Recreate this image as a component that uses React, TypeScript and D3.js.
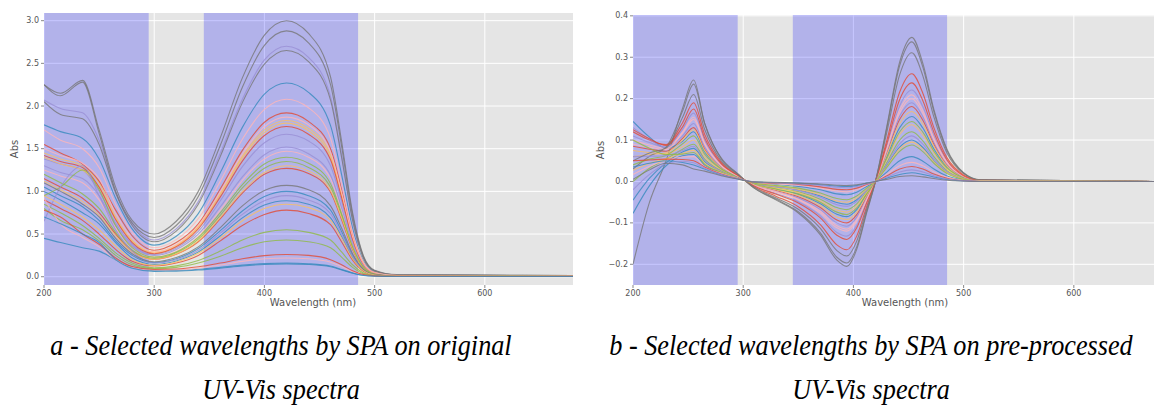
import React from "react";
import * as d3 from "d3";

// wavelength grid (nm) of the raw spectra, panel a
const WAVE_A = [200, 215, 235, 250, 265, 280, 300, 320, 340, 360, 380, 400, 420, 440, 460, 470, 480, 490, 500, 520, 680];

// absorbance of each sample
const SPECTRA_A = [
  [1.15, 1.05, 0.92, 0.75, 0.5, 0.3, 0.205, 0.264, 0.41, 0.68, 0.98, 1.2, 1.27, 1.21, 0.99, 0.67, 0.32, 0.1, 0.032, 0.01, 0.006],
  [1.78, 1.7, 1.62, 1.38, 0.92, 0.56, 0.37, 0.475, 0.74, 1.22, 1.75, 2.14, 2.27, 2.16, 1.77, 1.2, 0.57, 0.18, 0.057, 0.018, 0.011],
  [2.07, 1.97, 1.92, 1.6, 1.0, 0.62, 0.43, 0.56, 0.88, 1.45, 2.08, 2.54, 2.7, 2.57, 2.11, 1.43, 0.68, 0.22, 0.07, 0.02, 0.013],
  [2.25, 2.15, 2.3, 1.72, 1.05, 0.66, 0.5, 0.65, 1.0, 1.63, 2.33, 2.83, 3.0, 2.85, 2.34, 1.59, 0.75, 0.24, 0.075, 0.024, 0.015],
  [1.45, 1.38, 1.3, 1.1, 0.7, 0.42, 0.28, 0.36, 0.58, 0.96, 1.39, 1.69, 1.8, 1.71, 1.4, 0.95, 0.45, 0.14, 0.045, 0.014, 0.009],
  [0.8, 0.66, 0.55, 0.42, 0.25, 0.14, 0.095, 0.11, 0.16, 0.24, 0.34, 0.41, 0.43, 0.41, 0.34, 0.23, 0.11, 0.034, 0.011, 0.004, 0.003],
  [1.25, 1.18, 1.1, 0.9, 0.57, 0.34, 0.23, 0.295, 0.47, 0.78, 1.13, 1.38, 1.47, 1.4, 1.15, 0.78, 0.37, 0.12, 0.037, 0.012, 0.007],
  [1.55, 1.45, 1.32, 1.12, 0.78, 0.48, 0.31, 0.4, 0.62, 1.03, 1.48, 1.81, 1.92, 1.82, 1.5, 1.02, 0.48, 0.15, 0.048, 0.015, 0.01],
  [1.05, 0.95, 0.82, 0.66, 0.42, 0.25, 0.165, 0.21, 0.33, 0.54, 0.77, 0.94, 1.0, 0.95, 0.78, 0.53, 0.25, 0.08, 0.025, 0.008, 0.005],
  [1.38, 1.32, 1.25, 1.0, 0.63, 0.38, 0.26, 0.335, 0.53, 0.89, 1.29, 1.57, 1.67, 1.59, 1.3, 0.89, 0.42, 0.13, 0.042, 0.013, 0.008],
  [2.25, 2.12, 2.28, 1.68, 1.0, 0.63, 0.46, 0.6, 0.94, 1.54, 2.22, 2.71, 2.88, 2.74, 2.25, 1.53, 0.72, 0.23, 0.07, 0.023, 0.014],
  [1.4, 1.32, 1.25, 1.05, 0.68, 0.42, 0.29, 0.37, 0.59, 0.98, 1.41, 1.72, 1.83, 1.74, 1.43, 0.97, 0.46, 0.15, 0.046, 0.015, 0.009],
  [1.2, 1.1, 0.97, 0.8, 0.52, 0.31, 0.215, 0.28, 0.44, 0.72, 1.04, 1.27, 1.35, 1.28, 1.05, 0.72, 0.34, 0.11, 0.034, 0.011, 0.007],
  [1.72, 1.6, 1.5, 1.28, 0.85, 0.52, 0.34, 0.435, 0.68, 1.12, 1.61, 1.96, 2.08, 1.98, 1.62, 1.1, 0.52, 0.17, 0.052, 0.017, 0.01],
  [1.42, 1.35, 1.28, 1.05, 0.67, 0.4, 0.27, 0.35, 0.56, 0.935, 1.355, 1.655, 1.76, 1.67, 1.37, 0.93, 0.44, 0.14, 0.044, 0.014, 0.009],
  [1.0, 0.9, 0.75, 0.62, 0.4, 0.22, 0.145, 0.185, 0.29, 0.48, 0.69, 0.84, 0.89, 0.85, 0.69, 0.47, 0.22, 0.07, 0.022, 0.007, 0.005],
  [1.3, 1.22, 1.15, 0.95, 0.6, 0.36, 0.25, 0.32, 0.5, 0.82, 1.17, 1.43, 1.52, 1.44, 1.19, 0.81, 0.38, 0.12, 0.038, 0.012, 0.008],
  [2.05, 1.9, 1.85, 1.55, 0.98, 0.6, 0.41, 0.535, 0.85, 1.41, 2.04, 2.49, 2.65, 2.52, 2.07, 1.4, 0.66, 0.21, 0.066, 0.02, 0.013],
  [1.12, 1.02, 0.88, 0.72, 0.48, 0.29, 0.205, 0.265, 0.42, 0.695, 1.0, 1.22, 1.3, 1.24, 1.01, 0.69, 0.33, 0.1, 0.033, 0.01, 0.006],
  [0.95, 1.05, 1.25, 1.02, 0.6, 0.34, 0.23, 0.29, 0.46, 0.75, 1.08, 1.32, 1.4, 1.33, 1.09, 0.74, 0.35, 0.11, 0.035, 0.011, 0.007],
  [1.5, 1.42, 1.33, 1.15, 0.74, 0.45, 0.29, 0.375, 0.6, 0.995, 1.44, 1.76, 1.87, 1.78, 1.46, 0.99, 0.47, 0.15, 0.047, 0.015, 0.009],
  [0.9, 0.8, 0.66, 0.5, 0.32, 0.18, 0.125, 0.16, 0.25, 0.42, 0.6, 0.73, 0.78, 0.74, 0.61, 0.41, 0.195, 0.062, 0.02, 0.006, 0.004],
  [0.45, 0.4, 0.34, 0.3, 0.2, 0.11, 0.072, 0.075, 0.088, 0.11, 0.136, 0.154, 0.16, 0.152, 0.125, 0.085, 0.045, 0.018, 0.008, 0.003, 0.002],
  [0.65, 1.05, 1.3, 0.95, 0.55, 0.3, 0.16, 0.198, 0.31, 0.51, 0.73, 0.89, 0.95, 0.9, 0.74, 0.5, 0.24, 0.076, 0.024, 0.008, 0.005],
  [1.1, 1.0, 0.85, 0.7, 0.45, 0.27, 0.175, 0.224, 0.35, 0.575, 0.83, 1.01, 1.07, 1.02, 0.83, 0.57, 0.27, 0.086, 0.027, 0.009, 0.005],
  [0.95, 0.85, 0.7, 0.55, 0.36, 0.2, 0.135, 0.173, 0.274, 0.454, 0.656, 0.8, 0.85, 0.81, 0.66, 0.45, 0.21, 0.068, 0.021, 0.007, 0.005],
  [0.85, 0.75, 0.6, 0.45, 0.28, 0.16, 0.105, 0.127, 0.19, 0.3, 0.43, 0.52, 0.55, 0.52, 0.43, 0.29, 0.14, 0.044, 0.014, 0.005, 0.003],
  [0.92, 0.62, 0.46, 0.35, 0.2, 0.11, 0.075, 0.079, 0.1, 0.138, 0.18, 0.21, 0.22, 0.21, 0.17, 0.12, 0.06, 0.022, 0.009, 0.004, 0.003],
  [0.78, 0.7, 0.5, 0.38, 0.22, 0.12, 0.085, 0.09, 0.116, 0.16, 0.21, 0.247, 0.26, 0.25, 0.2, 0.14, 0.07, 0.025, 0.01, 0.004, 0.003],
  [0.7, 0.62, 0.5, 0.4, 0.2, 0.1, 0.063, 0.065, 0.078, 0.1, 0.126, 0.144, 0.15, 0.143, 0.117, 0.08, 0.04, 0.016, 0.007, 0.003, 0.002],
];

// wavelength grid (nm) of the pre-processed spectra, panel b
const WAVE_B = [200, 215, 230, 245, 255, 265, 280, 295, 310, 330, 350, 370, 385, 394, 403, 412, 420, 430, 442, 453, 463, 473, 485, 500, 515, 680];

const SPECTRA_B = [
  [0.085, 0.078, 0.073, 0.104, 0.13, 0.078, 0.034, 0.012, -0.008, -0.022, -0.037, -0.063, -0.093, -0.1, -0.08, -0.037, 0, 0.067, 0.15, 0.181, 0.148, 0.09, 0.04, 0.011, 0.002, 0],
  [0.145, 0.107, 0.08, 0.097, 0.12, 0.072, 0.032, 0.011, -0.007, -0.019, -0.031, -0.054, -0.079, -0.085, -0.068, -0.031, 0, 0.058, 0.13, 0.157, 0.129, 0.079, 0.035, 0.009, 0.002, 0],
  [0.11, 0.094, 0.083, 0.126, 0.165, 0.099, 0.041, 0.014, -0.011, -0.029, -0.049, -0.083, -0.123, -0.132, -0.106, -0.049, 0, 0.082, 0.183, 0.221, 0.181, 0.11, 0.049, 0.013, 0.003, 0],
  [-0.2, -0.05, 0.05, 0.177, 0.245, 0.14, 0.057, 0.019, -0.016, -0.045, -0.076, -0.129, -0.19, -0.205, -0.164, -0.076, 0, 0.129, 0.289, 0.348, 0.285, 0.174, 0.077, 0.021, 0.004, 0],
  [0.06, 0.065, 0.069, 0.1, 0.125, 0.075, 0.033, 0.012, -0.007, -0.02, -0.034, -0.058, -0.086, -0.092, -0.074, -0.034, 0, 0.063, 0.14, 0.169, 0.139, 0.085, 0.037, 0.01, 0.002, 0],
  [0.0, 0.032, 0.054, 0.078, 0.09, 0.054, 0.026, 0.009, -0.005, -0.015, -0.025, -0.043, -0.063, -0.068, -0.054, -0.025, 0, 0.044, 0.1, 0.12, 0.098, 0.06, 0.026, 0.007, 0.001, 0],
  [0.1, 0.088, 0.08, 0.119, 0.155, 0.093, 0.039, 0.013, -0.01, -0.026, -0.044, -0.076, -0.112, -0.12, -0.096, -0.044, 0, 0.077, 0.173, 0.209, 0.171, 0.105, 0.046, 0.013, 0.003, 0],
  [0.12, 0.1, 0.089, 0.142, 0.19, 0.114, 0.046, 0.015, -0.013, -0.036, -0.061, -0.104, -0.153, -0.165, -0.132, -0.061, 0, 0.096, 0.216, 0.26, 0.213, 0.13, 0.057, 0.016, 0.003, 0],
  [-0.077, -0.01, 0.038, 0.062, 0.065, 0.039, 0.021, 0.008, -0.003, -0.007, -0.012, -0.02, -0.03, -0.032, -0.026, -0.012, 0, 0.022, 0.05, 0.06, 0.049, 0.03, 0.013, 0.004, 0.001, 0],
  [0.13, 0.102, 0.082, 0.11, 0.14, 0.084, 0.036, 0.012, -0.009, -0.024, -0.04, -0.068, -0.1, -0.108, -0.086, -0.04, 0, 0.07, 0.158, 0.19, 0.156, 0.095, 0.042, 0.011, 0.002, 0],
  [0.03, 0.061, 0.083, 0.17, 0.235, 0.141, 0.055, 0.018, -0.016, -0.043, -0.073, -0.124, -0.183, -0.197, -0.158, -0.073, 0, 0.125, 0.28, 0.337, 0.276, 0.169, 0.074, 0.02, 0.004, 0],
  [0.075, 0.07, 0.067, 0.084, 0.1, 0.06, 0.028, 0.01, -0.006, -0.016, -0.027, -0.047, -0.069, -0.074, -0.059, -0.027, 0, 0.051, 0.114, 0.137, 0.112, 0.069, 0.03, 0.008, 0.002, 0],
  [0.04, 0.054, 0.063, 0.091, 0.11, 0.066, 0.03, 0.011, -0.006, -0.018, -0.03, -0.05, -0.074, -0.08, -0.064, -0.03, 0, 0.054, 0.12, 0.145, 0.119, 0.073, 0.032, 0.009, 0.002, 0],
  [0.09, 0.083, 0.077, 0.117, 0.15, 0.09, 0.038, 0.013, -0.009, -0.025, -0.043, -0.072, -0.107, -0.115, -0.092, -0.043, 0, 0.074, 0.166, 0.2, 0.164, 0.1, 0.044, 0.012, 0.002, 0],
  [0.125, 0.103, 0.087, 0.132, 0.175, 0.105, 0.043, 0.015, -0.011, -0.031, -0.052, -0.088, -0.13, -0.14, -0.112, -0.052, 0, 0.088, 0.198, 0.238, 0.195, 0.119, 0.052, 0.014, 0.003, 0],
  [-0.045, 0.008, 0.045, 0.071, 0.08, 0.048, 0.024, 0.009, -0.004, -0.012, -0.02, -0.035, -0.051, -0.055, -0.044, -0.02, 0, 0.037, 0.083, 0.1, 0.082, 0.05, 0.022, 0.006, 0.001, 0],
  [0.06, 0.061, 0.062, 0.075, 0.085, 0.051, 0.025, 0.009, -0.005, -0.013, -0.022, -0.038, -0.056, -0.06, -0.048, -0.022, 0, 0.041, 0.091, 0.11, 0.09, 0.055, 0.024, 0.007, 0.001, 0],
  [0.05, 0.069, 0.081, 0.155, 0.21, 0.126, 0.05, 0.017, -0.014, -0.04, -0.067, -0.113, -0.167, -0.18, -0.144, -0.067, 0, 0.115, 0.258, 0.311, 0.255, 0.156, 0.068, 0.019, 0.004, 0],
  [0.027, 0.044, 0.055, 0.068, 0.075, 0.045, 0.023, 0.008, -0.004, -0.011, -0.019, -0.032, -0.047, -0.05, -0.04, -0.019, 0, 0.035, 0.079, 0.095, 0.078, 0.048, 0.021, 0.006, 0.001, 0],
  [0.1, 0.08, 0.065, 0.066, 0.07, 0.042, 0.022, 0.008, -0.004, -0.01, -0.016, -0.028, -0.041, -0.044, -0.035, -0.016, 0, 0.033, 0.073, 0.088, 0.072, 0.044, 0.019, 0.005, 0.001, 0],
  [0.017, 0.037, 0.051, 0.059, 0.06, 0.036, 0.02, 0.008, -0.002, -0.006, -0.009, -0.016, -0.023, -0.025, -0.02, -0.009, 0, 0.017, 0.038, 0.046, 0.038, 0.023, 0.01, 0.003, 0.001, 0],
  [0.05, 0.052, 0.054, 0.053, 0.05, 0.035, 0.018, 0.007, -0.002, -0.004, -0.007, -0.013, -0.019, -0.02, -0.016, -0.007, 0, 0.013, 0.03, 0.036, 0.03, 0.018, 0.008, 0.002, 0, 0],
  [0.035, 0.044, 0.05, 0.046, 0.04, 0.03, 0.016, 0.006, -0.001, -0.003, -0.004, -0.008, -0.011, -0.012, -0.01, -0.004, 0, 0.008, 0.017, 0.021, 0.017, 0.011, 0.005, 0.001, 0, 0],
  [-0.02, 0.017, 0.043, 0.049, 0.045, 0.032, 0.017, 0.007, -0.001, -0.003, -0.006, -0.009, -0.014, -0.015, -0.012, -0.006, 0, 0.01, 0.023, 0.028, 0.023, 0.014, 0.006, 0.002, 0, 0],
  [0.005, 0.028, 0.044, 0.04, 0.03, 0.025, 0.014, 0.006, -0.001, -0.002, -0.004, -0.006, -0.009, -0.01, -0.008, -0.004, 0, 0.005, 0.012, 0.014, 0.011, 0.007, 0.003, 0.001, 0, 0],
];

// wavelength intervals selected by SPA
const SPA_BANDS = [
  [200, 295],
  [345, 485],
];

const X_TICKS = [200, 300, 400, 500, 600];
const Y_TICKS_A = [0, 0.5, 1, 1.5, 2, 2.5, 3];
const Y_TICKS_B = [-0.2, -0.1, 0, 0.1, 0.2, 0.3, 0.4];

const CAPTION_A = ["a - Selected wavelengths by SPA on original", "UV-Vis spectra"];
const CAPTION_B = ["b - Selected wavelengths by SPA on pre-processed", "UV-Vis spectra"];

// matplotlib "ggplot" style cycle
const COLORS = ["#E24A33", "#348ABD", "#988ED5", "#777777", "#FBC15E", "#8EBA42", "#FFB5B8"];

const tickFont = "'DejaVu Sans', sans-serif";
const captionFont = "'Liberation Serif', 'Times New Roman', serif";

type PanelProps = {
  id: string;
  left: number;
  top: number;
  bottom: number;
  yDomain: [number, number];
  yTicks: number[];
  waves: number[];
  spectra: number[][];
  absX: number;
  xLabelX: number;
};

const Panel = ({ id, left, top, bottom, yDomain, yTicks, waves, spectra, absX, xLabelX }: PanelProps) => {
  const x = d3.scaleLinear().domain([200, 680]).range([left, left + 529]);
  const y = d3.scaleLinear().domain(yDomain).range([bottom, top]);
  const fmt = d3.format(".1f");
  const line = d3
    .line<number>()
    .x((_, i) => x(waves[i]))
    .y((d) => y(d))
    .curve(d3.curveMonotoneX);

  const [x0, x1] = x.range();
  const label = { fontFamily: tickFont, fill: "#555" };

  return (
    <g>
      <defs>
        <clipPath id={id}>
          <rect x={x0} y={top} width={x1 - x0} height={bottom - top} />
        </clipPath>
      </defs>
      <rect x={x0} y={top} width={x1 - x0} height={bottom - top} fill="#E5E5E5" />
      <g clipPath={`url(#${id})`}>
        {X_TICKS.map((t) => (
          <line key={t} x1={x(t)} x2={x(t)} y1={top} y2={bottom} stroke="#fff" strokeWidth={1} />
        ))}
        {yTicks.map((t) => (
          <line key={t} x1={x0} x2={x1} y1={y(t)} y2={y(t)} stroke="#fff" strokeWidth={1} />
        ))}
        {SPA_BANDS.map(([a, b]) => (
          <rect key={a} x={x(a)} y={top} width={x(b) - x(a)} height={bottom - top} fill="#0000ff" fillOpacity={0.22} />
        ))}
        {spectra.map((s, i) => (
          <path
            key={i}
            d={line(s) || ""}
            fill="none"
            stroke={COLORS[i % COLORS.length]}
            strokeWidth={1.1}
            strokeOpacity={0.8}
          />
        ))}
      </g>
      {X_TICKS.map((t) => (
        <g key={t}>
          <line x1={x(t)} x2={x(t)} y1={bottom} y2={bottom + 3} stroke="#555" strokeWidth={0.7} />
          <text x={x(t)} y={bottom + 11} textAnchor="middle" fontSize={8} style={label}>
            {t}
          </text>
        </g>
      ))}
      {yTicks.map((t) => (
        <g key={t}>
          <line x1={x0 - 3} x2={x0} y1={y(t)} y2={y(t)} stroke="#555" strokeWidth={0.7} />
          <text x={x0 - 5} y={y(t)} dy="0.32em" textAnchor="end" fontSize={8} style={label}>
            {fmt(t)}
          </text>
        </g>
      ))}
      <text
        transform={`translate(${absX},${(top + bottom) / 2}) rotate(-90)`}
        textAnchor="middle"
        dy="0.35em"
        fontSize={10}
        style={label}
      >
        Abs
      </text>
      <text x={xLabelX} y={bottom + 21} textAnchor="middle" fontSize={10} style={label}>
        Wavelength (nm)
      </text>
    </g>
  );
};

// the scanned captions are slightly condensed, hence the horizontal squeeze
const Caption = ({ cx, lines }: { cx: number; lines: string[] }) => (
  <g style={{ fontFamily: captionFont, fontStyle: "italic", fontSize: "28.5px", fill: "#000" }}>
    <text transform={`translate(${cx},355) scale(0.92,1)`} textAnchor="middle">
      {lines[0]}
    </text>
    <text transform={`translate(${cx},399) scale(0.92,1)`} textAnchor="middle">
      {lines[1]}
    </text>
  </g>
);

export default function App() {
  return (
    <svg
      width={1154}
      height={406}
      style={{ position: "absolute", left: 0, top: 0, background: "#fff" }}
    >
      <Panel
        id="clip-a"
        left={44}
        top={13}
        bottom={285}
        yDomain={[-0.097, 3.09]}
        yTicks={Y_TICKS_A}
        waves={WAVE_A}
        spectra={SPECTRA_A}
        absX={14}
        xLabelX={313}
      />
      <Panel
        id="clip-b"
        left={633}
        top={15}
        bottom={285}
        yDomain={[-0.25, 0.402]}
        yTicks={Y_TICKS_B}
        waves={WAVE_B}
        spectra={SPECTRA_B}
        absX={600}
        xLabelX={905}
      />
      <Caption cx={281} lines={CAPTION_A} />
      <Caption cx={871} lines={CAPTION_B} />
    </svg>
  );
}
